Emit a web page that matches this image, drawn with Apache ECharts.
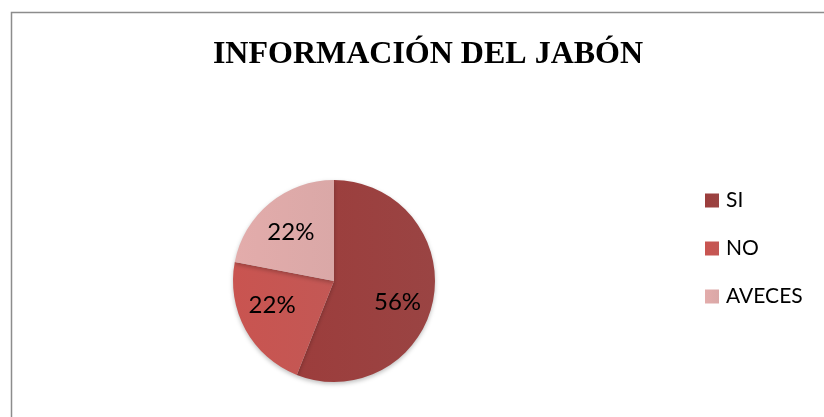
<!DOCTYPE html>
<html>
<head>
<meta charset="utf-8">
<script src="https://cdn.jsdelivr.net/npm/echarts@6/dist/echarts.min.js"></script>
<style>
  html, body { margin: 0; padding: 0; background: #fff; }
  #chart { width: 824px; height: 417px; }
</style>
</head>
<body>
<div id="chart"></div>
<script>
// datos del gráfico
const categories = ['SI', 'NO', 'AVECES']
const values = [56, 22, 22]
const colors = ['#953b3a', '#c0504d', '#d9a4a3']
// desplazamiento de las etiquetas dentro de cada sector
const labelOffsets = [[11, 11], [-15, -2], [-9, -8]]

const chart = echarts.init(document.getElementById('chart'))

const option = {
  backgroundColor: '#fff',
  title: {
    text: 'INFORMACIÓN DEL JABÓN',
    left: 423,
    top: 34,
    textAlign: 'center',
    textStyle: {
      fontFamily: 'Liberation Serif',
      fontWeight: 'bold',
      fontSize: 32,
      color: '#000'
    }
  },
  // marco gris del área del gráfico
  graphic: [{
    type: 'rect',
    shape: { x: 11.5, y: 12.5, width: 830, height: 420 },
    style: { fill: 'none', stroke: '#8c8c8c', lineWidth: 1.5 },
    silent: true
  }],
  legend: {
    orient: 'vertical',
    left: 705,
    top: 190,
    padding: 0,
    itemWidth: 14,
    itemHeight: 14,
    itemGap: 27,
    icon: 'rect',
    textStyle: {
      fontFamily: 'Lato',
      fontSize: 21,
      color: '#000',
      padding: [0, 0, 0, 2]
    },
    data: categories
  },
  series: [{
    type: 'pie',
    center: [334, 281],
    radius: 101,
    startAngle: 90,
    clockwise: true,
    avoidLabelOverlap: false,
    label: {
      show: true,
      position: 'inside',
      formatter: p => p.value + '%',
      fontFamily: 'Lato',
      fontSize: 24,
      color: '#000'
    },
    labelLine: { show: false },
    itemStyle: {
      borderWidth: 0,
      shadowColor: 'rgba(0,0,0,0.25)',
      shadowBlur: 4,
      shadowOffsetY: 2
    },
    emphasis: { scale: false },
    data: categories.map((name, i) => ({
      name: name,
      value: values[i],
      label: { offset: labelOffsets[i] },
      itemStyle: {
        color: new echarts.graphic.LinearGradient(0, 0, 1, 0, [
          { offset: 0, color: echarts.color.lift(colors[i], -0.05) },
          { offset: 1, color: echarts.color.lift(colors[i], 0.05) }
        ])
      }
    }))
  }]
}

chart.setOption(option)
</script>
</body>
</html>
